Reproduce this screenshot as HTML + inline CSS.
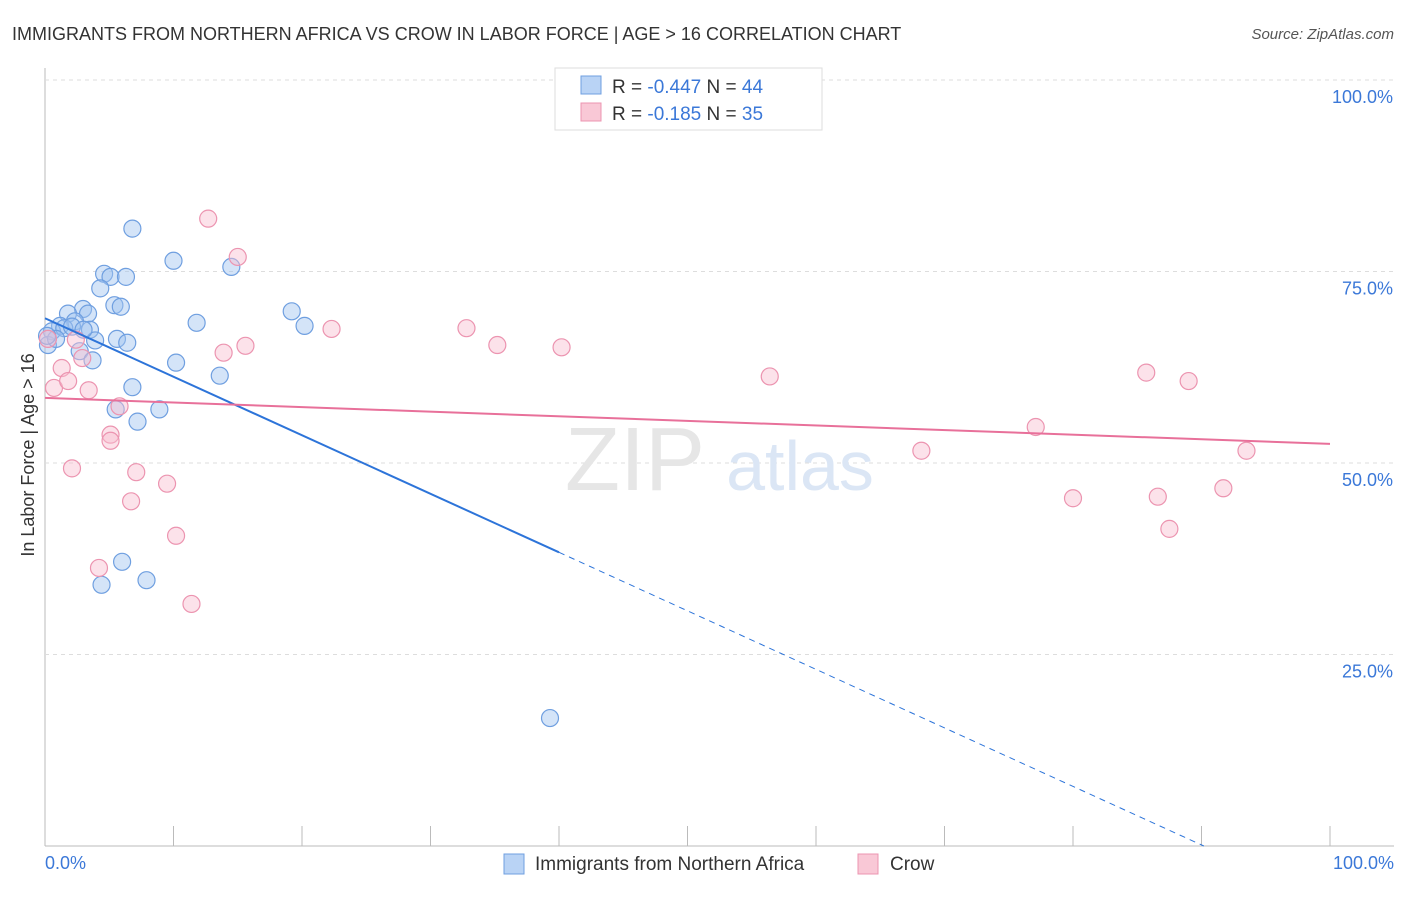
<!DOCTYPE html>
<html><head><meta charset="utf-8"><style>
body{margin:0;background:#fff;font-family:"Liberation Sans",sans-serif;}
svg text{font-family:"Liberation Sans",sans-serif;}
</style></head><body>
<svg width="1406" height="892">
<text x="12" y="40" font-size="18" fill="#333">IMMIGRANTS FROM NORTHERN AFRICA VS CROW IN LABOR FORCE | AGE &gt; 16 CORRELATION CHART</text>
<text x="1394" y="39" font-size="15" fill="#555" font-style="italic" text-anchor="end">Source: ZipAtlas.com</text>
<g id="grid"></g>
<text x="635" y="490" font-size="90" fill="#e6e6e6" font-family="Liberation Serif" text-anchor="middle">ZIP</text>
<text x="800" y="490" font-size="70" fill="#dbe6f5" text-anchor="middle">atlas</text>
<g id="pts"></g>
<g id="lines"></g>
<text x="34" y="455" font-size="18" fill="#333" text-anchor="middle" transform="rotate(-90 34 455)">In Labor Force | Age &gt; 16</text>
<text x="45" y="869" font-size="18" fill="#3b78d8">0.0%</text>
<text x="1394" y="869" font-size="18" fill="#3b78d8" text-anchor="end">100.0%</text>
<g>
<rect x="555" y="68" width="267" height="62" fill="#fff" stroke="#ddd"/>
<rect x="581" y="76" width="20" height="18" fill="#b9d3f5" stroke="#6f9fe0"/>
<rect x="581" y="103" width="20" height="18" fill="#f9c8d6" stroke="#ec94b0"/>
<text x="612" y="93" font-size="19" fill="#333">R = <tspan fill="#3b78d8">-0.447</tspan>   N = <tspan fill="#3b78d8">44</tspan></text>
<text x="612" y="120" font-size="19" fill="#333">R =  <tspan fill="#3b78d8">-0.185</tspan>   N =  <tspan fill="#3b78d8">35</tspan></text>
</g>
<g>
<rect x="504" y="854" width="20" height="20" fill="#b9d3f5" stroke="#6f9fe0"/>
<text x="535" y="870" font-size="19" fill="#333">Immigrants from Northern Africa</text>
<rect x="858" y="854" width="20" height="20" fill="#f9c8d6" stroke="#ec94b0"/>
<text x="890" y="870" font-size="19" fill="#333">Crow</text>
</g>
</svg>
<script>
const yTicks=[25,50,75,100];
const yTickLabels=["25.0%","50.0%","75.0%","100.0%"];
const blueX=[6.8,10.0,14.5,4.6,5.1,6.3,4.3,5.4,5.9,2.96,1.79,3.35,2.33,11.8,19.2,20.2,1.17,0.54,3.5,5.6,6.4,3.9,2.7,0.23,3.7,10.2,13.6,6.8,5.5,8.9,7.2,6.0,4.4,7.9,39.3,1.5,2.1,0.86,0.16,3.0];
const blueY=[80.6,76.4,75.6,74.7,74.3,74.3,72.8,70.6,70.4,70.1,69.5,69.5,68.5,68.3,69.8,67.9,67.9,67.2,67.4,66.2,65.7,66.0,64.6,65.4,63.4,63.1,61.4,59.9,57.0,57.0,55.4,37.1,34.1,34.7,16.7,67.6,67.8,66.2,66.6,67.4];
const pinkX=[12.7,15.0,15.6,13.9,22.3,32.8,35.2,40.2,56.4,85.7,89.0,77.1,68.2,93.5,80.0,86.6,91.7,87.5,0.7,1.3,1.8,3.4,2.9,5.8,5.1,5.1,2.1,7.1,9.5,6.7,10.2,4.2,11.4,2.4,0.23];
const pinkY=[81.9,76.9,65.3,64.4,67.5,67.6,65.4,65.1,61.3,61.8,60.7,54.7,51.6,51.6,45.4,45.6,46.7,41.4,59.8,62.4,60.7,59.5,63.7,57.4,53.7,52.9,49.3,48.8,47.3,45.0,40.5,36.3,31.6,66.1,66.2];
const blueFit=[68.9,-7.5];
const pinkFit=[58.5,52.5];
const X=v=>45+v*12.85, Y=v=>846-v*7.66;
const NS="http://www.w3.org/2000/svg";
const grid=document.getElementById('grid');
function mk(t,a,p){const e=document.createElementNS(NS,t);for(const k in a)e.setAttribute(k,a[k]);p.appendChild(e);return e;}
const yax=mk('line',{x1:45,y1:68,x2:45,y2:846,stroke:'#bbb'},grid);


const xax=mk('line',{x1:45,y1:846,x2:1394,y2:846,stroke:'#bbb'},grid);


for(let i=1;i<=10;i++){const t=mk('line',{x1:X(i*10),x2:X(i*10),y1:826,y2:846,stroke:'#bbb'},grid);

}
yTicks.forEach((v,i)=>{const g=mk('line',{x1:45,x2:1394,y1:Y(v),y2:Y(v),stroke:'#ddd','stroke-dasharray':'4,4'},grid);


const t=mk('text',{x:1393,y:Y(v)+23,'font-size':18,fill:'#3b78d8','text-anchor':'end'},grid);t.textContent=yTickLabels[i];

});
const pts=document.getElementById('pts');
blueX.forEach((x,i)=>{const c=mk('circle',{cx:X(x),cy:Y(blueY[i]),r:8.5,fill:'rgba(160,195,240,0.45)',stroke:'#6f9fe0','stroke-width':1.2},pts);

});
pinkX.forEach((x,i)=>{const c=mk('circle',{cx:X(x),cy:Y(pinkY[i]),r:8.5,fill:'rgba(248,190,208,0.45)',stroke:'#ec94b0','stroke-width':1.2},pts);

});
const ln=document.getElementById('lines');
const bAt=x=>blueFit[0]+(blueFit[1]-blueFit[0])*x/100;
const b1=mk('line',{x1:X(0),y1:Y(bAt(0)),x2:X(40),y2:Y(bAt(40)),stroke:'#2d74d9','stroke-width':2},ln);


const xEnd=(0-blueFit[0])/(blueFit[1]-blueFit[0])*100;
const b2=mk('line',{x1:X(40),y1:Y(bAt(40)),x2:X(xEnd),y2:Y(0),stroke:'#2d74d9','stroke-width':1,'stroke-dasharray':'6,5'},ln);


const p1=mk('line',{x1:X(0),y1:Y(pinkFit[0]),x2:X(100),y2:Y(pinkFit[1]),stroke:'#e8709a','stroke-width':2},ln);


</script>
</body></html>
